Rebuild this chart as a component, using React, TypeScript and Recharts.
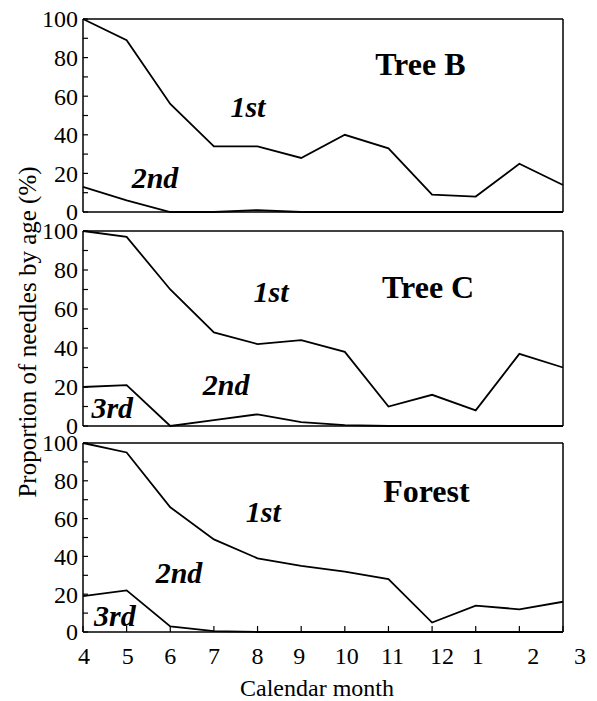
import { LineChart, Line, XAxis, YAxis, ReferenceDot } from "recharts";

const months = ["4", "5", "6", "7", "8", "9", "10", "11", "12", "1", "2", "3"];
const yTicks = [0, 10, 20, 30, 40, 50, 60, 70, 80, 90, 100];

const treeB1st = [100, 89, 56, 34, 34, 28, 40, 33, 9, 8, 25, 14];
const treeB2nd = [13, 6, 0, 0, 1, 0, 0, 0, 0, 0, 0, 0];

const treeC1st = [100, 97, 70, 48, 42, 44, 38, 10, 16, 8, 37, 30];
const treeC2nd = [20, 21, 0, 3, 6, 2, 0.5, 0, 0, 0, 0, 0];

const forest1st = [100, 95, 66, 49, 39, 35, 32, 28, 5, 14, 12, 16];
const forest2nd = [19, 22, 3, 0.5, 0, 0, 0, 0, 0, 0, 0, 0];

const FONT = '"Liberation Serif", "Times New Roman", serif';
const W = 597;
const PLOT_LEFT = 83;
const PLOT_RIGHT = 563;
const AXIS_W = 60;

// the printed month labels sit a little right of their ticks towards the end
const labelShift = [1, 1, 0, 0, 0, -2, 2, 4, 10, 2, 14, 17];

type Note = { text: string; x: number; y: number; title?: boolean };

// annotation anchors, in data units (month index, percent)
const treeBNotes: Note[] = [
	{ text: "Tree B", x: 7.73, y: 71, title: true },
	{ text: "1st", x: 3.78, y: 49 },
	{ text: "2nd", x: 1.65, y: 12.4 },
];
const treeCNotes: Note[] = [
	{ text: "Tree C", x: 7.91, y: 65.6, title: true },
	{ text: "1st", x: 4.31, y: 63.6 },
	{ text: "2nd", x: 3.28, y: 15.9 },
	{ text: "3rd", x: 0.67, y: 4.1 },
];
const forestNotes: Note[] = [
	{ text: "Forest", x: 7.87, y: 68.8, title: true },
	{ text: "1st", x: 4.13, y: 58.2 },
	{ text: "2nd", x: 2.2, y: 25.9 },
	{ text: "3rd", x: 0.73, y: 3.2 },
];

const rows = (first: number[], second: number[]) =>
	months.map((m, i) => ({ i, month: m, first: first[i], second: second[i] }));

const black = { stroke: "#000", strokeWidth: 1.5 };
const tickLn = { stroke: "#000", strokeWidth: 1.2 };

function YTick(props: any) {
	const v = props.payload.value;
	if (v % 20 !== 0) return null;
	return (
		<text
			x={props.x}
			y={props.y}
			dy="0.35em"
			textAnchor="end"
			fontFamily={FONT}
			fontSize={24}
			fill="#000"
		>
			{v}
		</text>
	);
}

function XTick(props: any) {
	const i = props.payload.value;
	return (
		<text
			x={props.x + labelShift[i]}
			y={props.y}
			dy="0.71em"
			textAnchor="middle"
			fontFamily={FONT}
			fontSize={24}
			fill="#000"
		>
			{months[i]}
		</text>
	);
}

function Panel({
	top,
	plotH,
	first,
	second,
	notes,
	bottomLabels,
}: {
	top: number;
	plotH: number;
	first: number[];
	second: number[];
	notes: Note[];
	bottomLabels?: boolean;
}) {
	const mTop = 20;
	const mBottom = bottomLabels ? 70 : 20;
	const idx = months.map((_, i) => i);
	return (
		<div
			style={{
				position: "absolute",
				left: 0,
				top: top - mTop - 1,
				fontFamily: FONT,
			}}
		>
			<LineChart
				width={W}
				height={plotH + mTop + mBottom + 2}
				data={rows(first, second)}
				margin={{
					top: mTop,
					bottom: mBottom,
					left: PLOT_LEFT - AXIS_W,
					right: W - PLOT_RIGHT - 1,
				}}
			>
				<XAxis
					dataKey="i"
					type="number"
					domain={[0, 11]}
					ticks={idx}
					interval={0}
					height={1}
					tickSize={-6}
					tickMargin={21}
					axisLine={black}
					tickLine={tickLn}
					tick={bottomLabels ? <XTick /> : false}
				/>
				<XAxis
					xAxisId="top"
					orientation="top"
					type="number"
					domain={[0, 11]}
					ticks={idx}
					interval={0}
					height={1}
					tickSize={-6}
					axisLine={black}
					tickLine={tickLn}
					tick={false}
				/>
				<YAxis
					type="number"
					domain={[0, 100]}
					ticks={yTicks}
					interval={0}
					width={AXIS_W}
					tickSize={-5}
					tickMargin={10}
					axisLine={black}
					tickLine={tickLn}
					tick={<YTick />}
				/>
				<YAxis
					yAxisId="right"
					orientation="right"
					type="number"
					domain={[0, 100]}
					ticks={yTicks}
					interval={0}
					width={1}
					tickSize={-5}
					axisLine={black}
					tickLine={tickLn}
					tick={false}
				/>
				<Line
					dataKey="first"
					stroke="#000"
					strokeWidth={1.8}
					dot={false}
					isAnimationActive={false}
				/>
				<Line
					dataKey="second"
					stroke="#000"
					strokeWidth={1.8}
					dot={false}
					isAnimationActive={false}
				/>
				{notes.map((n) => (
					<ReferenceDot
						key={n.text}
						x={n.x}
						y={n.y}
						r={0}
						shape={(p: any) => (
							<text
								x={p.cx}
								y={p.cy}
								textAnchor="middle"
								fontFamily={FONT}
								fontWeight="bold"
								fontStyle={n.title ? "normal" : "italic"}
								fontSize={n.title ? 32 : 30}
								fill="#000"
							>
								{n.text}
							</text>
						)}
					/>
				))}
			</LineChart>
		</div>
	);
}

export default function App() {
	return (
		<div
			style={{
				position: "absolute",
				left: 0,
				top: 0,
				width: W,
				height: 701,
				background: "#fff",
				fontFamily: FONT,
				color: "#000",
			}}
		>
			<Panel top={19} plotH={193} first={treeB1st} second={treeB2nd} notes={treeBNotes} />
			<Panel top={231} plotH={195} first={treeC1st} second={treeC2nd} notes={treeCNotes} />
			<Panel
				top={443}
				plotH={189}
				first={forest1st}
				second={forest2nd}
				notes={forestNotes}
				bottomLabels
			/>
			<div
				style={{
					position: "absolute",
					left: 28,
					top: 332,
					transform: "translate(-50%, -50%) rotate(-90deg)",
					whiteSpace: "nowrap",
					fontSize: 25,
				}}
			>
				Proportion of needles by age (%)
			</div>
			<div
				style={{
					position: "absolute",
					left: 317,
					top: 688,
					transform: "translate(-50%, -50%)",
					whiteSpace: "nowrap",
					fontSize: 24,
				}}
			>
				Calendar month
			</div>
		</div>
	);
}
